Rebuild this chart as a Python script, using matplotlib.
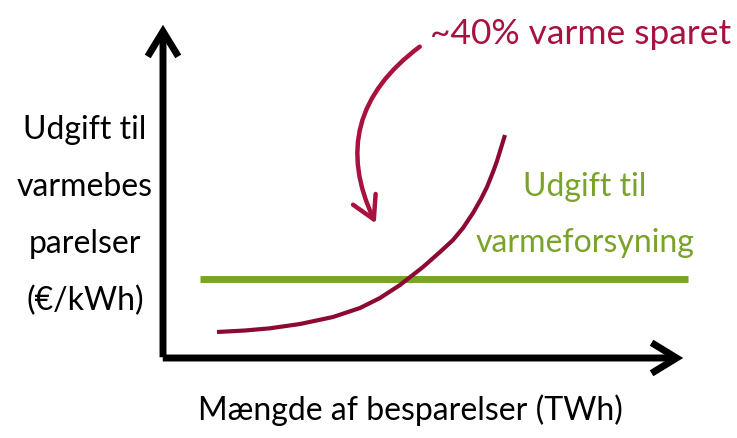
import matplotlib
matplotlib.use("Agg")
import matplotlib.pyplot as plt
from matplotlib.patches import FancyArrowPatch

plt.rcParams["font.family"] = ["Lato", "DejaVu Sans"]

# schematic cost curve (pixel coordinates of the reference picture)
cost_x = [217, 245, 270, 300, 333, 360, 380, 400, 423, 440, 453, 463, 473, 481, 487, 493, 497, 501, 505]
cost_y = [332, 330.5, 328.3, 324, 317, 308, 298, 285, 267, 252, 240, 228, 213, 199, 187, 172, 161, 148, 135]

# supply cost line
supply_x = [200, 688]
supply_y = [279, 279]

ylabel_lines = ["Udgift til", "varmebes", "parelser", "(\u20ac/kWh)"]
supply_label = ["Udgift til", "varmeforsyning"]
saving_label = "~40% varme sparet"
xlabel = "M\u00e6ngde af besparelser (TWh)"

RED_DARK = "#8c0a32"
RED = "#a8123f"
GREEN = "#7aa32a"

fig = plt.figure(figsize=(7.37, 4.38), dpi=100)
ax = fig.add_axes([0, 0, 1, 1])
ax.set_xlim(0, 737)
ax.set_ylim(438, 0)
ax.axis("off")

# axes arrows
for start, end in [((163, 360), (163, 22)), ((160, 358), (686, 358))]:
    ax.add_patch(FancyArrowPatch(start, end, arrowstyle="->,head_length=0.9,head_width=0.55",
                                 mutation_scale=20, lw=5, color="black",
                                 capstyle="butt", joinstyle="miter"))

ax.plot(supply_x, supply_y, color=GREEN, lw=5, solid_capstyle="butt")
ax.plot(cost_x, cost_y, color=RED_DARK, lw=3, solid_capstyle="butt",
        solid_joinstyle="round")

# curved arrow
ax.add_patch(FancyArrowPatch((422, 45), (377, 226),
                             connectionstyle="arc3,rad=0.42",
                             arrowstyle="->,head_length=0.8,head_width=0.45",
                             mutation_scale=20, lw=3.2, color=RED))

ax.text(581, 34, saving_label, color=RED, fontsize=25.5, ha="center", va="center")
for i, line in enumerate(ylabel_lines):
    ax.text(85, 130 + i * 57, line, fontsize=23, ha="center", va="center")
for i, line in enumerate(supply_label):
    ax.text(585, 187 + i * 56, line, color=GREEN, fontsize=23, ha="center", va="center")
ax.text(410, 410, xlabel, fontsize=23, ha="center", va="center")

fig.savefig("out.png", dpi=100)
